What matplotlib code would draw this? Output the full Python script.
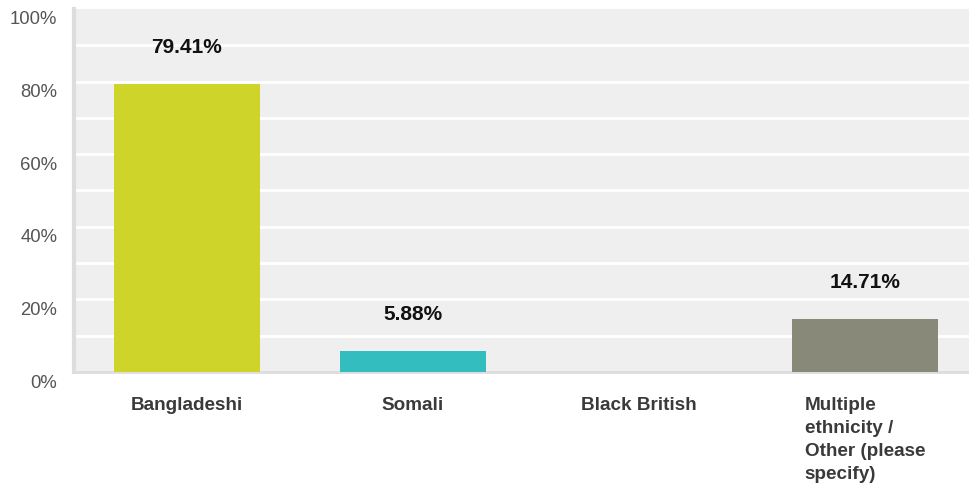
import matplotlib.pyplot as plt
import matplotlib.transforms as mtransforms
import numpy as np

plt.rcParams['font.family'] = ['Liberation Sans', 'DejaVu Sans']

categories = ["Bangladeshi", "Somali", "Black British",
              "Multiple\nethnicity /\nOther (please\nspecify)"]
values = [79.41, 5.88, 0.0, 14.71]
colors = ["#cfd42a", "#33bdbe", "#33bdbe", "#89897a"]
y_ticks = [0, 20, 40, 60, 80, 100]

fig = plt.figure(figsize=(9.69, 4.94), dpi=100)
ax = fig.add_axes([74 / 969, 1 - 372 / 494, 1 - 74 / 969, 363 / 494])
ax.set_facecolor("#efefef")

x = np.arange(len(categories))
bars = ax.bar(x, values, width=0.646, color=colors, zorder=3)

# value labels above the non-empty bars
for xi, v in zip(x, values):
    if v > 0:
        ax.annotate(f"{v:.2f}%", (xi, v), xytext=(0, 26), textcoords="offset points",
                    ha="center", va="center", fontsize=15, fontweight="bold",
                    color="#111111", zorder=4)

ax.set_xlim(-0.5, -0.5 + (969 - 74) / 226)
ax.set_ylim(0, 100)

# white gridlines every 10%
for g in range(10, 100, 10):
    ax.axhline(g, color="white", lw=2, zorder=1)

ax.set_yticks(y_ticks)
ax.set_yticklabels([f"{t}%" for t in y_ticks], fontsize=13.3, color="#555555")
ax.tick_params(axis="y", length=0, pad=12)
shift = mtransforms.ScaledTranslation(0, -9 / 100, fig.dpi_scale_trans)
for lab in ax.get_yticklabels():
    lab.set_transform(lab.get_transform() + shift)

ax.set_xticks(x)
ax.set_xticklabels(categories, fontsize=13.6, fontweight="bold", color="#3a3a3a",
                   va="top", linespacing=1.45)
for lab in ax.get_xticklabels():
    lab.set_multialignment("left")
ax.tick_params(axis="x", length=0, pad=18)

for side in ["top", "right"]:
    ax.spines[side].set_visible(False)
ax.spines["left"].set_color("#dddddd")
ax.spines["left"].set_linewidth(3)
ax.spines["bottom"].set_color("#dddddd")
ax.spines["bottom"].set_linewidth(2)

fig.savefig("out.png", dpi=100)
